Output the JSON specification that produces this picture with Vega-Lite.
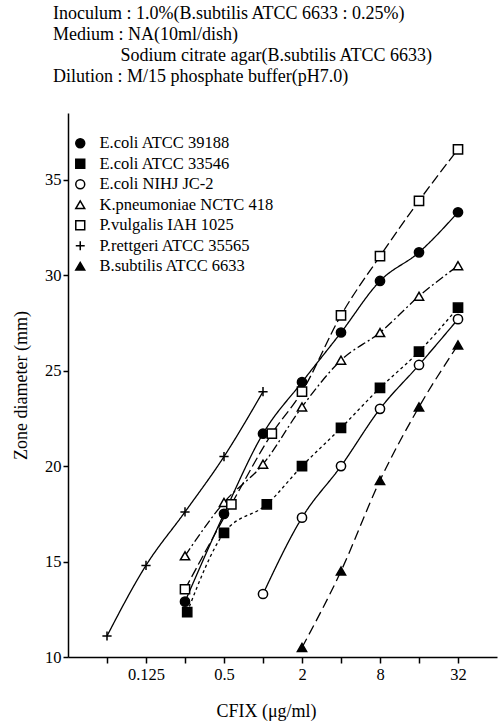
{
  "$schema": "https://vega.github.io/schema/vega-lite/v6.json",
  "width": 429,
  "height": 544,
  "autosize": {"type": "none"},
  "padding": {"left": 68, "top": 113, "right": 4, "bottom": 70},
  "background": "white",
  "config": {
    "font": "Liberation Serif",
    "view": {"stroke": null},
    "axis": {
      "grid": false,
      "domainColor": "black",
      "domainWidth": 1.5,
      "tickColor": "black",
      "tickWidth": 1.5,
      "labelColor": "black",
      "titleColor": "black",
      "labelFont": "Liberation Serif",
      "titleFont": "Liberation Serif",
      "labelFontSize": 16.5,
      "titleFontSize": 18,
      "titleFontWeight": "normal",
      "labelOverlap": false
    },
    "legend": {
      "labelFont": "Liberation Serif",
      "labelFontSize": 16.5,
      "labelColor": "black",
      "labelLimit": 400
    }
  },
  "title": {
    "text": [
      "Inoculum : 1.0%(B.subtilis ATCC 6633 : 0.25%)",
      "Medium :  NA(10ml/dish)",
      "\u200b\u00a0\u00a0\u00a0\u00a0\u00a0\u00a0\u00a0\u00a0\u00a0\u00a0\u00a0\u00a0\u00a0\u00a0\u00a0Sodium citrate agar(B.subtilis ATCC 6633)",
      "Dilution : M/15 phosphate buffer(pH7.0)"
    ],
    "anchor": "start",
    "frame": "group",
    "dx": -15,
    "offset": 27,
    "font": "Liberation Serif",
    "fontSize": 18,
    "fontWeight": "normal",
    "lineHeight": 21,
    "color": "black"
  },
  "data": {
    "values": [
      {"s": "E.coli ATCC 39188", "x": 0.25, "y": 12.9},
      {"s": "E.coli ATCC 39188", "x": 0.5, "y": 17.5},
      {"s": "E.coli ATCC 39188", "x": 1, "y": 21.7},
      {"s": "E.coli ATCC 39188", "x": 2, "y": 24.4},
      {"s": "E.coli ATCC 39188", "x": 4, "y": 27.0},
      {"s": "E.coli ATCC 39188", "x": 8, "y": 29.7},
      {"s": "E.coli ATCC 39188", "x": 16, "y": 31.2},
      {"s": "E.coli ATCC 39188", "x": 32, "y": 33.3},
      {"s": "E.coli ATCC 33546", "x": 0.26, "y": 12.35},
      {"s": "E.coli ATCC 33546", "x": 0.5, "y": 16.5},
      {"s": "E.coli ATCC 33546", "x": 1.07, "y": 18.0},
      {"s": "E.coli ATCC 33546", "x": 2, "y": 20.0},
      {"s": "E.coli ATCC 33546", "x": 4, "y": 22.0},
      {"s": "E.coli ATCC 33546", "x": 8, "y": 24.1},
      {"s": "E.coli ATCC 33546", "x": 16, "y": 26.0},
      {"s": "E.coli ATCC 33546", "x": 32, "y": 28.3},
      {"s": "E.coli NIHJ JC-2", "x": 1, "y": 13.3},
      {"s": "E.coli NIHJ JC-2", "x": 2, "y": 17.3},
      {"s": "E.coli NIHJ JC-2", "x": 4, "y": 20.0},
      {"s": "E.coli NIHJ JC-2", "x": 8, "y": 23.0},
      {"s": "E.coli NIHJ JC-2", "x": 16, "y": 25.3},
      {"s": "E.coli NIHJ JC-2", "x": 32, "y": 27.7},
      {"s": "K.pneumoniae NCTC 418", "x": 0.25, "y": 15.3},
      {"s": "K.pneumoniae NCTC 418", "x": 0.5, "y": 18.1},
      {"s": "K.pneumoniae NCTC 418", "x": 1, "y": 20.1},
      {"s": "K.pneumoniae NCTC 418", "x": 2, "y": 23.1},
      {"s": "K.pneumoniae NCTC 418", "x": 4, "y": 25.55},
      {"s": "K.pneumoniae NCTC 418", "x": 8, "y": 27.0},
      {"s": "K.pneumoniae NCTC 418", "x": 16, "y": 28.9},
      {"s": "K.pneumoniae NCTC 418", "x": 32, "y": 30.5},
      {"s": "P.vulgalis IAH 1025", "x": 0.25, "y": 13.55},
      {"s": "P.vulgalis IAH 1025", "x": 0.57, "y": 18.0},
      {"s": "P.vulgalis IAH 1025", "x": 1.17, "y": 21.7},
      {"s": "P.vulgalis IAH 1025", "x": 2, "y": 23.9},
      {"s": "P.vulgalis IAH 1025", "x": 4, "y": 27.9},
      {"s": "P.vulgalis IAH 1025", "x": 8, "y": 31.0},
      {"s": "P.vulgalis IAH 1025", "x": 16, "y": 33.9},
      {"s": "P.vulgalis IAH 1025", "x": 32, "y": 36.6},
      {"s": "P.rettgeri ATCC 35565", "x": 0.0625, "y": 11.1},
      {"s": "P.rettgeri ATCC 35565", "x": 0.125, "y": 14.8},
      {"s": "P.rettgeri ATCC 35565", "x": 0.25, "y": 17.6},
      {"s": "P.rettgeri ATCC 35565", "x": 0.5, "y": 20.5},
      {"s": "P.rettgeri ATCC 35565", "x": 1, "y": 23.9},
      {"s": "B.subtilis ATCC 6633", "x": 2, "y": 10.5},
      {"s": "B.subtilis ATCC 6633", "x": 4, "y": 14.5},
      {"s": "B.subtilis ATCC 6633", "x": 8, "y": 19.25},
      {"s": "B.subtilis ATCC 6633", "x": 16, "y": 23.1},
      {"s": "B.subtilis ATCC 6633", "x": 32, "y": 26.35}
    ]
  },
  "encoding": {
    "x": {
      "field": "x",
      "type": "quantitative",
      "scale": {"type": "log", "base": 2, "domain": [0.03125, 64], "nice": false},
      "axis": {
        "values": [0.0625, 0.125, 0.25, 0.5, 1, 2, 4, 8, 16, 32],
        "tickSize": 6,
        "labelPadding": 3,
        "labelFlush": false,
        "labelExpr": "datum.value == 0.125 ? '0.125' : datum.value == 0.5 ? '0.5' : datum.value == 2 ? '2' : datum.value == 8 ? '8' : datum.value == 32 ? '32' : ''",
        "title": "CFIX (μg/ml)",
        "titleX": 198,
        "titlePadding": 20
      }
    },
    "y": {
      "field": "y",
      "type": "quantitative",
      "scale": {"domain": [10, 38.5], "nice": false, "zero": false},
      "axis": {
        "values": [10, 15, 20, 25, 30, 35],
        "tickSize": 5,
        "labelPadding": 2,
        "labelFlush": false,
        "title": "Zone diameter (mm)",
        "titlePadding": 14
      }
    }
  },
  "resolve": {"legend": {"strokeDash": "independent"}},
  "layer": [
    {
      "mark": {"type": "line", "interpolate": "monotone", "color": "black", "strokeWidth": 1.3},
      "encoding": {
        "strokeDash": {
          "field": "s",
          "type": "nominal",
          "scale": {
            "domain": ["E.coli ATCC 39188", "E.coli ATCC 33546", "E.coli NIHJ JC-2", "K.pneumoniae NCTC 418", "P.vulgalis IAH 1025", "P.rettgeri ATCC 35565", "B.subtilis ATCC 6633"],
            "range": [[1, 0], [3, 3], [1, 0], [9, 3, 2, 3], [10, 4], [1, 0], [10, 5]]
          },
          "legend": null
        }
      }
    },
    {
      "mark": {"type": "point", "stroke": "black", "strokeWidth": 1.5, "opacity": 1, "size": 85},
      "encoding": {
        "shape": {
          "field": "s",
          "type": "nominal",
          "scale": {
            "domain": ["E.coli ATCC 39188", "E.coli ATCC 33546", "E.coli NIHJ JC-2", "K.pneumoniae NCTC 418", "P.vulgalis IAH 1025", "P.rettgeri ATCC 35565", "B.subtilis ATCC 6633"],
            "range": ["circle", "square", "circle", "triangle-up", "square", "M-1,0H1M0,-1V1", "triangle-up"]
          },
          "legend": {
            "title": null,
            "orient": "none",
            "legendX": 4,
            "legendY": 22,
            "padding": 0,
            "rowPadding": 3.5,
            "labelOffset": 11,
            "symbolSize": 80,
            "symbolOpacity": 1,
            "encode": {
              "symbols": {
                "update": {
                  "stroke": {"value": "black"},
                  "strokeWidth": {"value": 1.5},
                  "opacity": {"value": 1}
                }
              }
            }
          }
        },
        "fill": {
          "field": "s",
          "type": "nominal",
          "scale": {
            "domain": ["E.coli ATCC 39188", "E.coli ATCC 33546", "E.coli NIHJ JC-2", "K.pneumoniae NCTC 418", "P.vulgalis IAH 1025", "P.rettgeri ATCC 35565", "B.subtilis ATCC 6633"],
            "range": ["black", "black", "white", "white", "white", "black", "black"]
          },
          "legend": {
            "title": null,
            "orient": "none",
            "legendX": 4,
            "legendY": 22,
            "padding": 0,
            "rowPadding": 3.5,
            "labelOffset": 11,
            "symbolSize": 80,
            "symbolOpacity": 1,
            "encode": {
              "symbols": {
                "update": {
                  "stroke": {"value": "black"},
                  "strokeWidth": {"value": 1.5},
                  "opacity": {"value": 1}
                }
              }
            }
          }
        }
      }
    }
  ]
}
